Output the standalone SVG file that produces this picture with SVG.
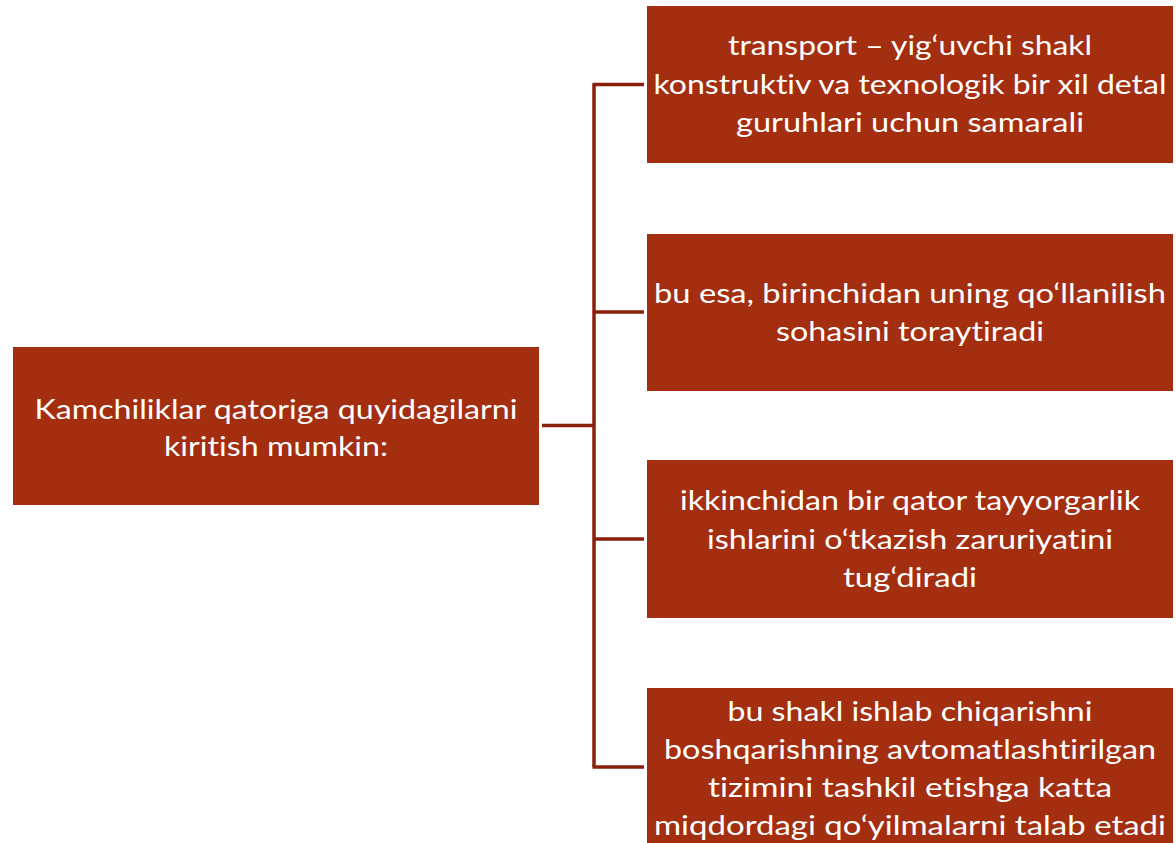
<svg xmlns="http://www.w3.org/2000/svg" width="1176" height="843" viewBox="0 0 1176 843">
<style>
.box{fill:#A42E10;}
.t{font-family:Lato,"Open Sans","Liberation Sans",sans-serif;font-size:27px;fill:#ffffff;text-anchor:middle;font-variant-ligatures:none;}
.c{fill:none;stroke:#8A1F0A;stroke-width:3.5;}
</style>
<rect width="1176" height="843" fill="#ffffff"/>
<g id="connectors">
<path class="c" d="M542 425.5 H594"/>
<path class="c" d="M594 84.5 V767"/>
<path class="c" d="M592.5 84.5 H644"/>
<path class="c" d="M594 312 H644"/>
<path class="c" d="M594 539 H644"/>
<path class="c" d="M592.5 767 H644"/>
</g>
<g id="root">
<rect class="box" x="13" y="347" width="526" height="158"/>
<text class="t" x="276" y="419" textLength="483" lengthAdjust="spacingAndGlyphs">Kamchiliklar qatoriga quyidagilarni</text>
<text class="t" x="276" y="456" textLength="224" lengthAdjust="spacingAndGlyphs">kiritish mumkin:</text>
</g>
<g id="n1">
<rect class="box" x="647" y="6" width="526" height="157"/>
<text class="t" x="910" y="55" textLength="364" lengthAdjust="spacingAndGlyphs">transport – yig‘uvchi shakl</text>
<text class="t" x="910" y="94" textLength="513" lengthAdjust="spacingAndGlyphs">konstruktiv va texnologik bir xil detal</text>
<text class="t" x="910" y="132" textLength="348" lengthAdjust="spacingAndGlyphs">guruhlari uchun samarali</text>
</g>
<g id="n2">
<rect class="box" x="647" y="234" width="526" height="157"/>
<text class="t" x="910" y="303" textLength="512" lengthAdjust="spacingAndGlyphs">bu esa, birinchidan uning qo‘llanilish</text>
<text class="t" x="910" y="341" textLength="268" lengthAdjust="spacingAndGlyphs">sohasini toraytiradi</text>
</g>
<g id="n3">
<rect class="box" x="647" y="460" width="526" height="158"/>
<text class="t" x="910" y="510" textLength="460" lengthAdjust="spacingAndGlyphs">ikkinchidan bir qator tayyorgarlik</text>
<text class="t" x="910" y="549" textLength="406" lengthAdjust="spacingAndGlyphs">ishlarini o‘tkazish zaruriyatini</text>
<text class="t" x="910" y="587" textLength="134" lengthAdjust="spacingAndGlyphs">tug‘diradi</text>
</g>
<g id="n4">
<rect class="box" x="647" y="688" width="526" height="157"/>
<text class="t" x="910" y="721" textLength="365" lengthAdjust="spacingAndGlyphs">bu shakl ishlab chiqarishni</text>
<text class="t" x="910" y="759" textLength="492" lengthAdjust="spacingAndGlyphs">boshqarishning avtomatlashtirilgan</text>
<text class="t" x="910" y="797" textLength="404" lengthAdjust="spacingAndGlyphs">tizimini tashkil etishga katta</text>
<text class="t" x="910" y="835" textLength="512" lengthAdjust="spacingAndGlyphs">miqdordagi qo‘yilmalarni talab etadi</text>
</g>
</svg>
